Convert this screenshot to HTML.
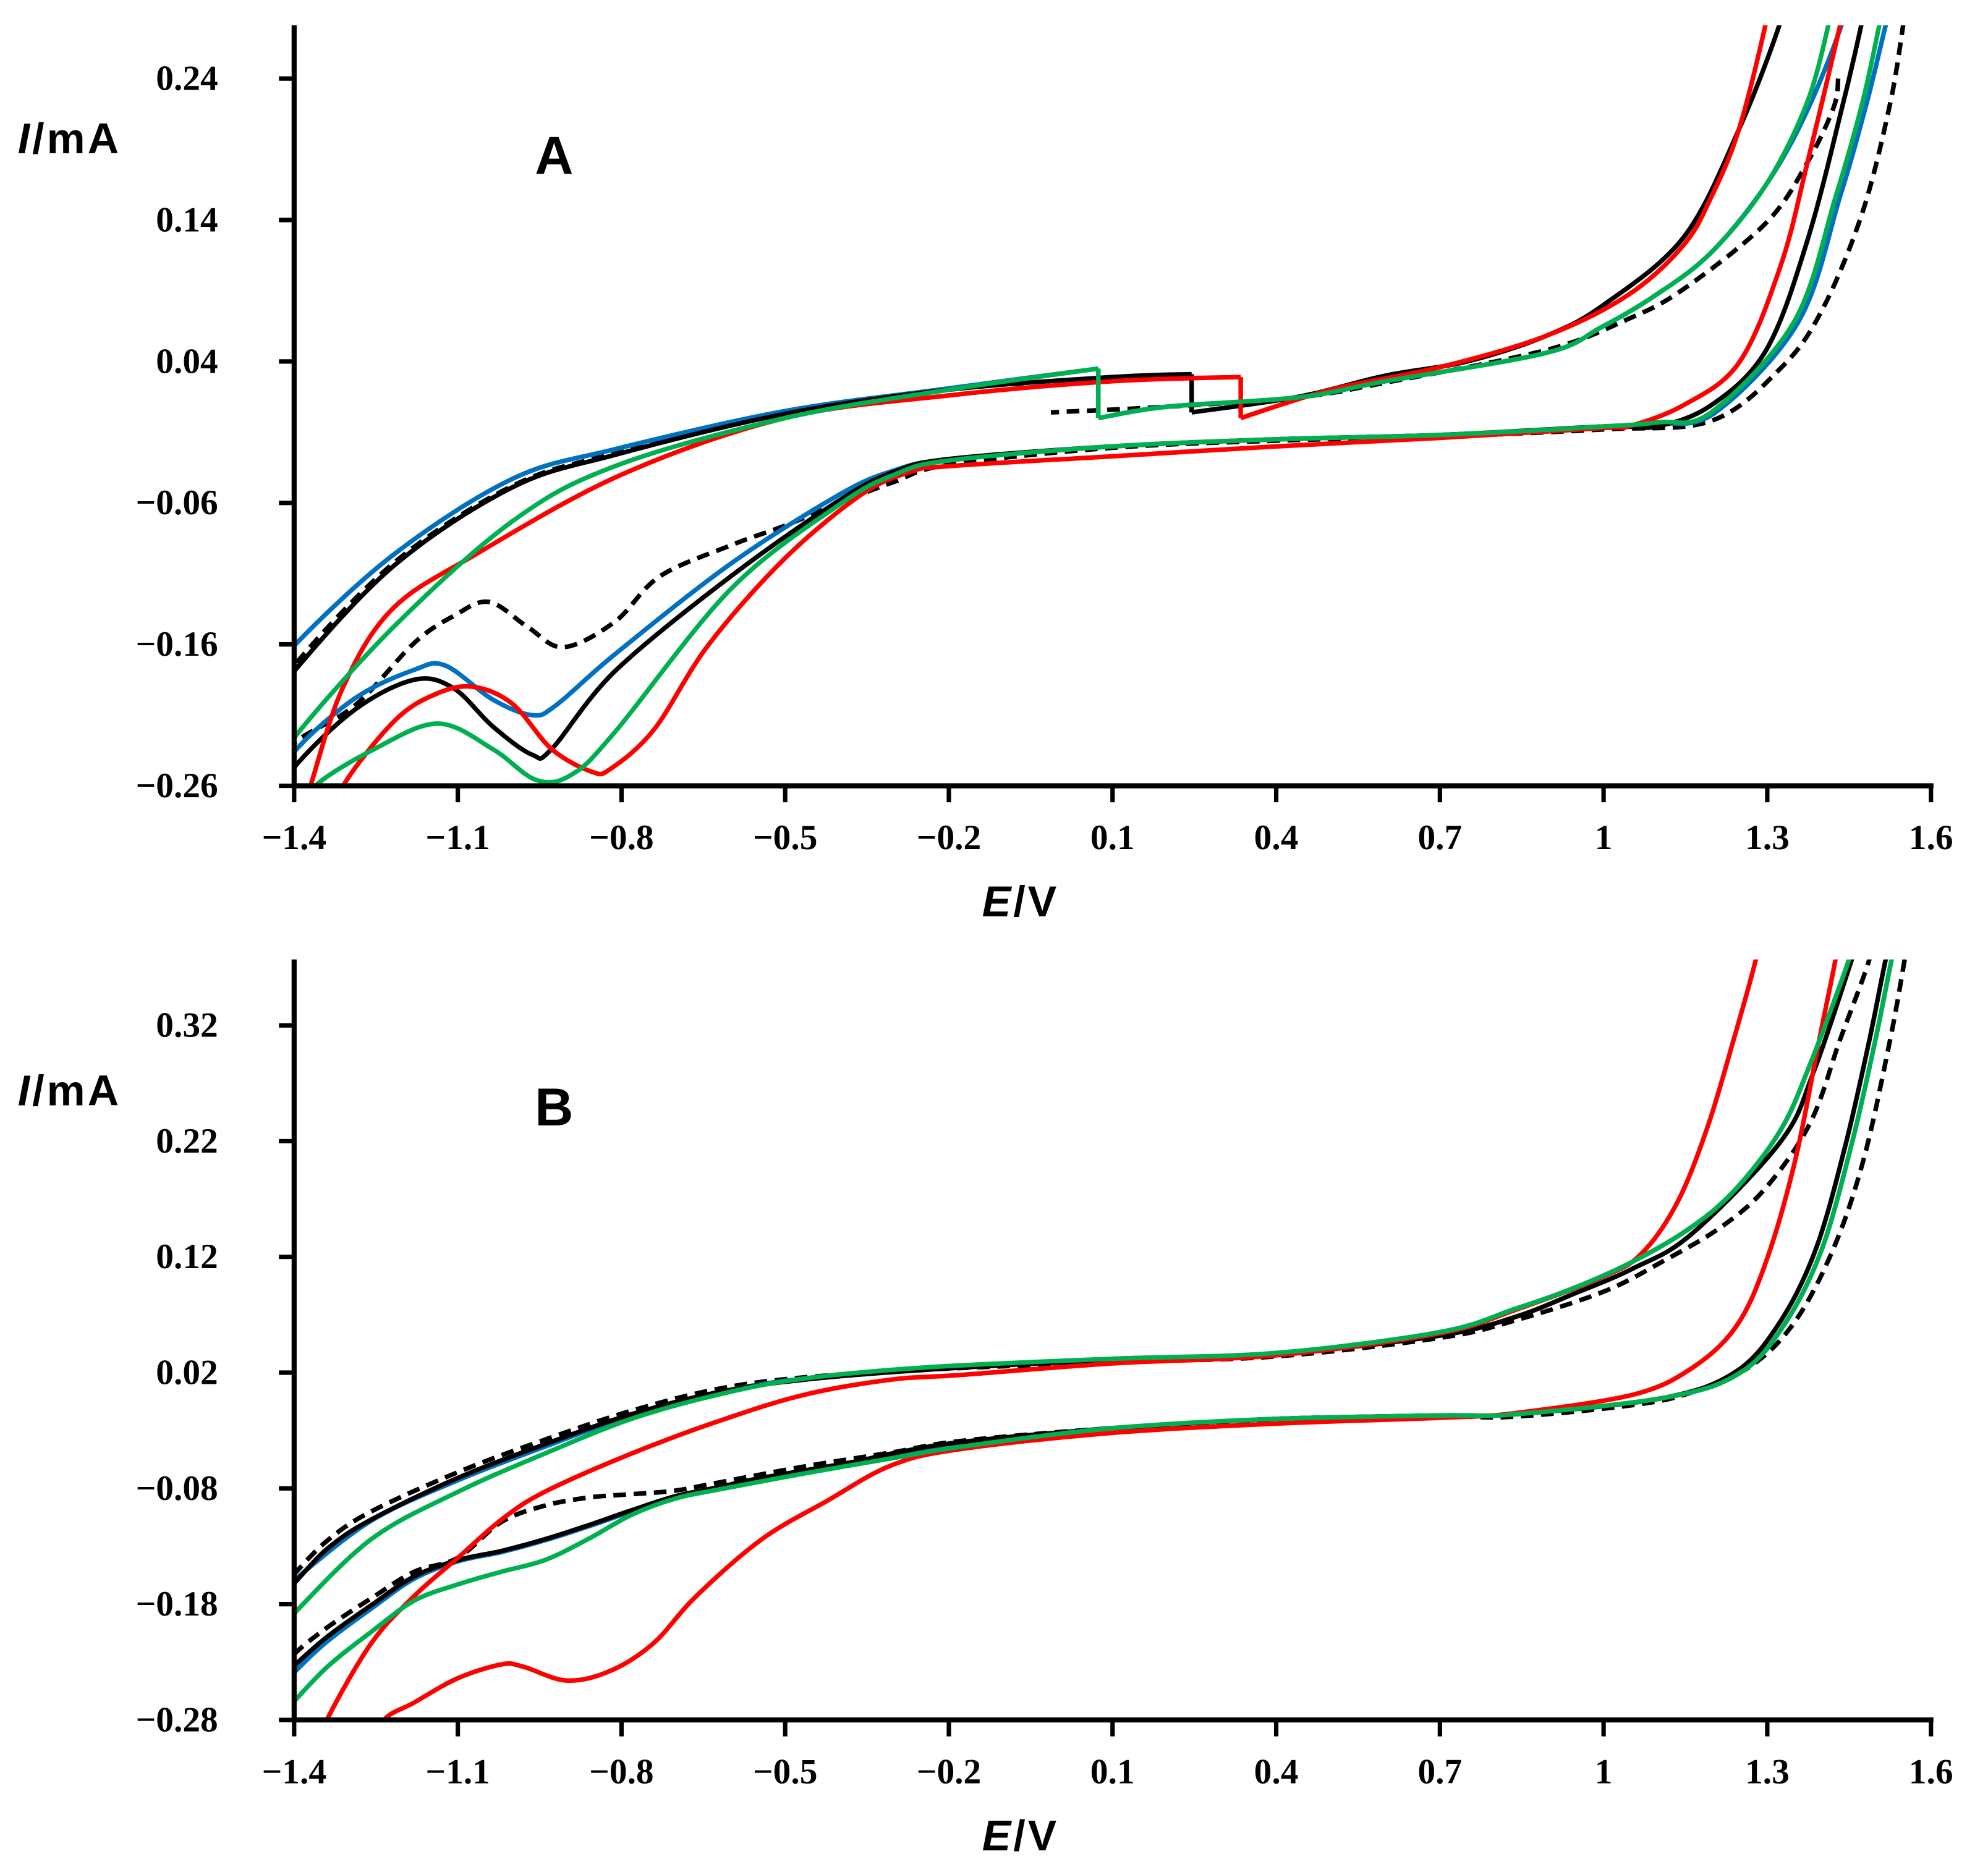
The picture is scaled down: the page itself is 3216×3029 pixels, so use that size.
<!DOCTYPE html>
<html><head><meta charset="utf-8">
<style>
html,body{margin:0;padding:0;background:#fff;}
svg{display:block;}
.tk{font-family:"Liberation Serif",serif;font-weight:bold;font-size:28px;fill:#000;}
.ax{font-family:"Liberation Sans",sans-serif;font-weight:bold;font-size:34px;fill:#000;letter-spacing:2px;}
.pl{font-family:"Liberation Sans",sans-serif;font-weight:bold;font-size:42px;fill:#000;}
</style></head>
<body>
<svg id="fig" width="3216" height="3029" viewBox="0 0 1568 1477" preserveAspectRatio="none" xmlns="http://www.w3.org/2000/svg">
<defs>
<clipPath id="clipA"><rect x="232" y="20" width="1300" height="600"/></clipPath>
<clipPath id="clipB"><rect x="232" y="757" width="1300" height="600"/></clipPath>
</defs>
<g id="panelA"></g>
<g id="panelB"></g>
</svg>
<script>
// shared axis ticks
const xTicks = [-1.4,-1.1,-0.8,-0.5,-0.2,0.1,0.4,0.7,1.0,1.3,1.6];
const xTickLabels = ["\u22121.4","\u22121.1","\u22120.8","\u22120.5","\u22120.2","0.1","0.4","0.7","1","1.3","1.6"];
const aYTicks = [0.24,0.14,0.04,-0.06,-0.16,-0.26];
const aYTickLabels = ["0.24","0.14","0.04","\u22120.06","\u22120.16","\u22120.26"];
const bYTicks = [0.32,0.22,0.12,0.02,-0.08,-0.18,-0.28];
const bYTickLabels = ["0.32","0.22","0.12","0.02","\u22120.08","\u22120.18","\u22120.28"];

// Panel A series (E/V, I/mA); null = break
const aRedE = [0.335,0.1,-0.2,-0.5,-0.8,-1.07,-1.22,-1.31,-1.37,-1.40,null,-1.33,-1.31,-1.216,-1.14,-1.072,-1.0,-0.928,-0.855,-0.82,-0.74,-0.64,-0.5,-0.36,-0.27,-0.2,0.1,0.4,0.7,1.0,1.045,1.146,1.248,1.324,1.374,1.435,1.45,null,1.31,1.298,1.248,1.197,1.146,1.045,0.894,0.7,0.5,0.335,null,0.335,0.335];
const aRedI = [0.029,0.026,0.016,0.0,-0.04,-0.097,-0.135,-0.19,-0.26,-0.30,null,-0.29,-0.26,-0.214,-0.195,-0.19,-0.202,-0.234,-0.25,-0.248,-0.22,-0.16,-0.099,-0.054,-0.038,-0.034,-0.027,-0.02,-0.014,-0.007,-0.006,0.009,0.039,0.107,0.181,0.28,0.31,null,0.31,0.28,0.204,0.156,0.122,0.087,0.058,0.036,0.02,0.0,null,0.0,0.029];
const aBlackE = [0.245,0.1,-0.2,-0.5,-0.812,-1.0,-1.216,-1.4,-1.45,null,-1.45,-1.4,-1.288,-1.18,-1.108,-1.036,-0.964,-0.928,-0.812,-0.6,-0.4,-0.3,-0.2,0.1,0.4,0.7,1.0,1.096,1.197,1.298,1.374,1.44,1.475,1.49,null,1.335,1.326,1.248,1.147,1.0,0.894,0.75,0.6,0.44,0.245,null,0.245,0.245];
const aBlackI = [0.031,0.029,0.02,0.003,-0.026,-0.049,-0.104,-0.179,-0.21,null,-0.28,-0.247,-0.206,-0.185,-0.191,-0.218,-0.238,-0.234,-0.179,-0.112,-0.058,-0.038,-0.029,-0.02,-0.015,-0.012,-0.006,-0.006,0.009,0.048,0.126,0.224,0.2824,0.31,null,0.31,0.2824,0.204,0.128,0.08,0.058,0.04,0.03,0.015,0.004,null,0.004,0.031];
const aBlueE = [0.074,-0.2,-0.5,-0.812,-1.0,-1.216,-1.4,-1.45,null,-1.45,-1.4,-1.288,-1.18,-1.123,-1.036,-0.964,-0.92,-0.812,-0.6,-0.4,-0.3,-0.2,0.1,0.4,0.7,1.0,1.1,1.205,1.357,1.433,1.483,1.52,1.54,null,1.45,1.44,1.374,1.298,1.197,1.096,0.995,0.894,0.6,0.44,0.2,0.074,null,0.074,0.074];
const aBlueI = [0.035,0.021,0.005,-0.022,-0.043,-0.096,-0.161,-0.19,null,-0.27,-0.236,-0.198,-0.178,-0.175,-0.199,-0.21,-0.203,-0.167,-0.103,-0.054,-0.037,-0.029,-0.02,-0.015,-0.012,-0.006,-0.004,0.004,0.068,0.156,0.224,0.2824,0.31,null,0.31,0.2824,0.218,0.165,0.117,0.087,0.064,0.046,0.026,0.0146,0.008,0.0,null,0.0,0.035];
const aGreenE = [0.074,-0.2,-0.5,-0.812,-1.0,-1.216,-1.4,-1.45,null,-1.38,-1.361,-1.253,-1.137,-1.036,-0.956,-0.891,-0.812,-0.6,-0.4,-0.3,-0.2,0.1,0.4,0.7,1.0,1.1,1.197,1.349,1.425,1.475,1.508,1.52,null,1.425,1.415,1.374,1.298,1.197,1.096,0.995,0.894,0.6,0.44,0.2,0.074,null,0.074,0.074];
const aGreenI = [0.035,0.02,0.0,-0.034,-0.073,-0.147,-0.226,-0.26,null,-0.28,-0.26,-0.234,-0.216,-0.234,-0.256,-0.252,-0.222,-0.121,-0.061,-0.04,-0.03,-0.02,-0.015,-0.012,-0.006,-0.003,0.004,0.068,0.156,0.224,0.2824,0.30,null,0.30,0.2824,0.224,0.165,0.117,0.087,0.064,0.046,0.026,0.0146,0.008,0.0,null,0.0,0.035];
const aDashE = [-1.45,-1.4,-1.216,-1.0,-0.812,-0.5,-0.2,-0.05,null,-1.45,-1.4,-1.288,-1.18,-1.108,-1.043,-0.971,-0.906,-0.812,-0.73,-0.6,-0.5,-0.4,-0.3,-0.2,0.1,0.4,0.7,1.0,1.197,1.324,1.4,1.475,1.526,1.551,1.56,null,1.43,1.422,1.374,1.298,1.146,1.045,0.894,0.6,0.44,0.2,-0.013];
const aDashI = [-0.21,-0.175,-0.102,-0.048,-0.025,0.003,0.02,0.025,null,-0.26,-0.23,-0.203,-0.159,-0.14,-0.13,-0.148,-0.162,-0.144,-0.112,-0.09,-0.076,-0.06,-0.045,-0.033,-0.021,-0.016,-0.013,-0.008,-0.002,0.035,0.076,0.146,0.224,0.2824,0.30,null,0.24,0.22,0.181,0.138,0.091,0.07,0.048,0.025,0.0146,0.008,0.004];

// Panel B series
const bRedE = [1.285,1.279,1.238,1.189,1.135,1.07,1.0,0.837,0.7,0.4,0.1,-0.178,-0.305,-0.464,-0.623,-0.782,-0.941,-1.02,-1.1,-1.18,-1.259,-1.34,-1.36,null,-1.26,-1.235,-1.18,-1.1,-1.02,-0.98,-0.901,-0.822,-0.742,-0.663,-0.543,-0.424,-0.305,-0.178,0.1,0.4,0.7,0.837,1.054,1.162,1.243,1.298,1.352,1.395,1.425,1.43];
const bRedI = [0.40,0.377,0.307,0.23,0.167,0.123,0.103,0.074,0.054,0.035,0.028,0.018,0.014,0.001,-0.022,-0.05,-0.083,-0.107,-0.14,-0.173,-0.214,-0.28,-0.31,null,-0.31,-0.28,-0.265,-0.244,-0.232,-0.234,-0.246,-0.238,-0.214,-0.173,-0.124,-0.091,-0.06,-0.046,-0.032,-0.024,-0.019,-0.015,0.001,0.024,0.06,0.116,0.205,0.307,0.377,0.40];
const bBlackE = [1.47,1.455,1.385,1.325,1.162,1.054,0.945,0.837,0.7,0.4,0.1,-0.225,-0.464,-0.623,-0.782,-0.941,-1.1,-1.259,-1.339,-1.402,-1.45,null,-1.45,-1.402,-1.339,-1.259,-1.18,-1.1,-1.02,-0.941,-0.862,-0.782,-0.703,-0.623,-0.544,-0.384,-0.305,-0.178,0.1,0.4,0.7,0.837,1.108,1.243,1.325,1.39,1.444,1.487,1.517,1.53];
const bBlackI = [0.40,0.377,0.28,0.22,0.14,0.11,0.088,0.068,0.052,0.036,0.031,0.023,0.014,0.003,-0.016,-0.042,-0.071,-0.107,-0.132,-0.163,-0.185,null,-0.255,-0.234,-0.208,-0.181,-0.156,-0.142,-0.134,-0.124,-0.112,-0.099,-0.087,-0.079,-0.071,-0.058,-0.05,-0.04,-0.028,-0.02,-0.017,-0.016,-0.002,0.021,0.065,0.128,0.218,0.307,0.377,0.40];
const bBlueE = [1.46,1.45,1.379,1.325,1.243,1.162,1.054,0.945,0.837,0.7,0.4,0.1,-0.225,-0.464,-0.623,-0.782,-0.941,-1.1,-1.259,-1.402,-1.45,null,-1.45,-1.402,-1.339,-1.259,-1.18,-1.1,-1.02,-0.941,-0.862,-0.782,-0.703,-0.623,-0.544,-0.384,-0.305,-0.178,0.1,0.4,0.7,0.837,1.12,1.254,1.336,1.401,1.455,1.498,1.528,1.54];
const bBlueI = [0.40,0.377,0.287,0.23,0.179,0.146,0.116,0.093,0.075,0.055,0.037,0.032,0.024,0.015,0.003,-0.017,-0.044,-0.073,-0.108,-0.16,-0.18,null,-0.265,-0.24,-0.212,-0.184,-0.158,-0.143,-0.135,-0.125,-0.113,-0.1,-0.088,-0.08,-0.072,-0.059,-0.051,-0.041,-0.028,-0.02,-0.017,-0.016,-0.001,0.021,0.065,0.128,0.218,0.307,0.377,0.40];
const bGreenE = [1.46,1.45,1.379,1.325,1.243,1.162,1.054,0.945,0.837,0.7,0.4,0.1,-0.225,-0.464,-0.623,-0.782,-0.941,-1.1,-1.259,-1.402,-1.45,null,-1.45,-1.402,-1.339,-1.259,-1.18,-1.1,-1.02,-0.941,-0.862,-0.782,-0.703,-0.623,-0.464,-0.305,-0.178,0.1,0.4,0.7,0.837,1.12,1.254,1.336,1.401,1.455,1.498,1.528,1.54];
const bGreenI = [0.40,0.377,0.287,0.23,0.179,0.146,0.116,0.093,0.075,0.055,0.037,0.032,0.025,0.015,0.001,-0.02,-0.05,-0.083,-0.124,-0.189,-0.215,null,-0.29,-0.265,-0.234,-0.204,-0.177,-0.163,-0.152,-0.142,-0.124,-0.103,-0.089,-0.081,-0.067,-0.054,-0.044,-0.028,-0.02,-0.017,-0.016,-0.001,0.021,0.065,0.128,0.218,0.307,0.377,0.40];
const bDashE = [1.49,1.487,1.433,1.379,1.298,1.216,1.108,1.0,0.837,0.7,0.4,0.1,-0.225,-0.464,-0.623,-0.782,-0.941,-1.1,-1.259,-1.339,-1.402,-1.45,null,-1.45,-1.402,-1.339,-1.259,-1.18,-1.1,-1.02,-0.941,-0.862,-0.782,-0.703,-0.623,-0.464,-0.305,-0.178,0.1,0.4,0.7,0.837,1.054,1.162,1.271,1.352,1.422,1.477,1.525,1.552,1.56];
const bDashI = [0.40,0.377,0.307,0.236,0.18,0.146,0.116,0.09,0.065,0.05,0.034,0.029,0.023,0.016,0.006,-0.013,-0.038,-0.066,-0.1,-0.125,-0.155,-0.18,null,-0.25,-0.224,-0.2,-0.175,-0.152,-0.14,-0.109,-0.095,-0.088,-0.085,-0.082,-0.075,-0.061,-0.049,-0.039,-0.028,-0.021,-0.018,-0.018,-0.008,0.003,0.026,0.065,0.128,0.205,0.307,0.377,0.40];

const NS = "http://www.w3.org/2000/svg";
const X0 = 232, X1 = 1523, EMIN = -1.4, EMAX = 1.6;
function xScale(e){ return X0 + (e - EMIN) / (EMAX - EMIN) * (X1 - X0); }

function mk(tag, parent){ const el = document.createElementNS(NS, tag); parent.appendChild(el); return el; }

function smoothPath(pts){
  if (pts.length < 2) return '';
  let d = 'M' + pts[0][0].toFixed(1) + ',' + pts[0][1].toFixed(1);
  if (pts.length === 2) return d + 'L' + pts[1][0].toFixed(1) + ',' + pts[1][1].toFixed(1);
  for (let k = 0; k < pts.length - 1; k++){
    const p0 = pts[k-1] || pts[k], p1 = pts[k], p2 = pts[k+1], p3 = pts[k+2] || pts[k+1];
    const c1x = p1[0] + (p2[0]-p0[0])/6, c1y = p1[1] + (p2[1]-p0[1])/6;
    const c2x = p2[0] - (p3[0]-p1[0])/6, c2y = p2[1] - (p3[1]-p1[1])/6;
    d += 'C' + c1x.toFixed(1) + ',' + c1y.toFixed(1) + ' ' + c2x.toFixed(1) + ',' + c2y.toFixed(1) + ' ' + p2[0].toFixed(1) + ',' + p2[1].toFixed(1);
  }
  return d;
}

function drawPanel(g, cfg){
  const yScale = v => cfg.yBase - (v - cfg.yMin) * cfg.pxPer;
  const sg = mk('g', g);
  sg.setAttribute('clip-path', 'url(#' + cfg.clip + ')');
  cfg.series.forEach(s => {
    let d = '', run = [];
    for (let i = 0; i <= s.e.length; i++){
      if (i === s.e.length || s.e[i] === null || s.i[i] === null){
        d += smoothPath(run); run = []; continue;
      }
      run.push([xScale(s.e[i]), yScale(s.i[i])]);
    }
    const p = mk('path', sg);
    p.setAttribute('d', d);
    p.setAttribute('fill', 'none');
    p.setAttribute('stroke', s.color);
    p.setAttribute('stroke-width', '3.6');
    p.setAttribute('stroke-linejoin', 'round');
    if (s.dash) p.setAttribute('stroke-dasharray', '10 6');
    
    
  });
  const ya = mk('line', g);
  ya.setAttribute('x1', X0); ya.setAttribute('x2', X0);
  ya.setAttribute('y1', cfg.yTop); ya.setAttribute('y2', cfg.yBase + 2);
  ya.setAttribute('stroke', '#000'); ya.setAttribute('stroke-width', '4');
  
  
  const xa = mk('line', g);
  xa.setAttribute('x1', X0 - 2); xa.setAttribute('x2', X1 + 2);
  xa.setAttribute('y1', cfg.yBase); xa.setAttribute('y2', cfg.yBase);
  xa.setAttribute('stroke', '#000'); xa.setAttribute('stroke-width', '4');
  
  
  cfg.yTicks.forEach((v, k) => {
    const y = yScale(v);
    const t = mk('line', g);
    t.setAttribute('x1', X0 - 12); t.setAttribute('x2', X0);
    t.setAttribute('y1', y); t.setAttribute('y2', y);
    t.setAttribute('stroke', '#000'); t.setAttribute('stroke-width', '3.5');
    
    
    const tx = mk('text', g);
    tx.setAttribute('x', 172); tx.setAttribute('y', y + 9);
    tx.setAttribute('text-anchor', 'end');
    tx.setAttribute('class', 'tk');
    tx.textContent = cfg.yTickLabels[k];
    
    
  });
  xTicks.forEach((v, k) => {
    const x = xScale(v);
    const t = mk('line', g);
    t.setAttribute('x1', x); t.setAttribute('x2', x);
    t.setAttribute('y1', cfg.yBase); t.setAttribute('y2', cfg.yBase + 13);
    t.setAttribute('stroke', '#000'); t.setAttribute('stroke-width', '3.5');
    
    
    const tx = mk('text', g);
    tx.setAttribute('x', x); tx.setAttribute('y', cfg.yBase + 50);
    tx.setAttribute('text-anchor', 'middle');
    tx.setAttribute('class', 'tk');
    tx.textContent = xTickLabels[k];
    
    
  });
  const yt = mk('text', g);
  yt.setAttribute('x', 14); yt.setAttribute('y', cfg.yTitleY);
  yt.setAttribute('class', 'ax');
  yt.innerHTML = '<tspan font-style="italic">I</tspan>/mA';
  
  
  const xt = mk('text', g);
  xt.setAttribute('x', 805); xt.setAttribute('y', cfg.yBase + 103);
  xt.setAttribute('text-anchor', 'middle');
  xt.setAttribute('class', 'ax');
  xt.innerHTML = '<tspan font-style="italic">E</tspan>/V';
  
  
  const pl = mk('text', g);
  pl.setAttribute('x', 437); pl.setAttribute('y', cfg.panelLabelY);
  pl.setAttribute('text-anchor', 'middle');
  pl.setAttribute('class', 'pl');
  pl.textContent = cfg.label;
  
  
}

drawPanel(document.getElementById('panelA'), {
  yBase: 620, yTop: 20, yMin: -0.26, pxPer: 1116, clip: 'clipA',
  yTicks: aYTicks, yTickLabels: aYTickLabels, yTitleY: 121, panelLabelY: 137, label: 'A',
  series: [
    {name:'series-a-dashed-black', color:'#000', dash:true, e:aDashE, i:aDashI},
    {name:'series-a-blue', color:'#0070c0', e:aBlueE, i:aBlueI},
    {name:'series-a-black', color:'#000', e:aBlackE, i:aBlackI},
    {name:'series-a-red', color:'#ff0000', e:aRedE, i:aRedI},
    {name:'series-a-green', color:'#00b050', e:aGreenE, i:aGreenI}
  ]
});
drawPanel(document.getElementById('panelB'), {
  yBase: 1357, yTop: 757, yMin: -0.28, pxPer: 913.3, clip: 'clipB',
  yTicks: bYTicks, yTickLabels: bYTickLabels, yTitleY: 872, panelLabelY: 888, label: 'B',
  series: [
    {name:'series-b-dashed-black', color:'#000', dash:true, e:bDashE, i:bDashI},
    {name:'series-b-blue', color:'#0070c0', e:bBlueE, i:bBlueI},
    {name:'series-b-black', color:'#000', e:bBlackE, i:bBlackI},
    {name:'series-b-red', color:'#ff0000', e:bRedE, i:bRedI},
    {name:'series-b-green', color:'#00b050', e:bGreenE, i:bGreenI}
  ]
});
</script>
</body></html>
